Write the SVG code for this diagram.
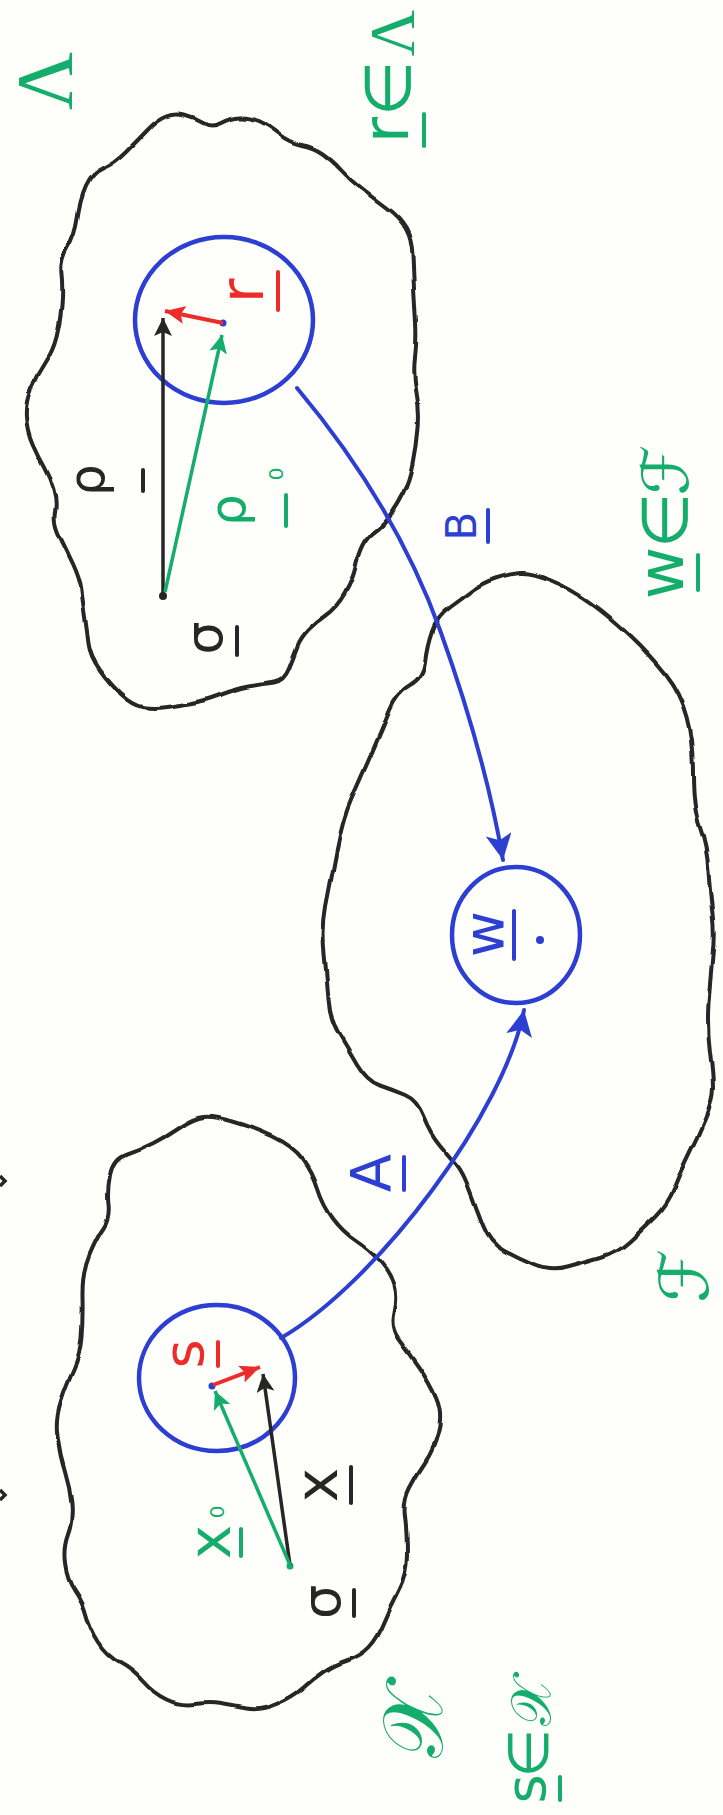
<svg xmlns="http://www.w3.org/2000/svg" width="723" height="1815" viewBox="0 0 723 1815">
<style>
.cloud{fill:none;stroke:#262626;stroke-width:4;stroke-linejoin:round}
.ball{fill:none;stroke:#2c3fd2;stroke-width:4.5}
.conn{fill:none;stroke:#2c3fd2;stroke-width:4;stroke-linecap:round}
.vb{stroke:#262626;stroke-width:3.5;fill:none}
.vg{stroke:#14ad6c;stroke-width:3.5;fill:none}
.vr{stroke:#ee2b2b;stroke-width:4;fill:none}
text{font-family:"DejaVu Sans","Liberation Sans",sans-serif;text-anchor:middle}
.serif{font-family:"Liberation Serif","DejaVu Serif",serif}
.tg{fill:#14ad6c}.tb{fill:#262626}.tr{fill:#ee2b2b}.tu{fill:#2c3fd2}
.ul{stroke-width:4;stroke-linecap:round}
.ug{stroke:#14ad6c}.ub{stroke:#262626}.ur{stroke:#ee2b2b}.uu{stroke:#2c3fd2}
</style>
<defs>
<filter id="wob" x="-5%" y="-5%" width="110%" height="110%">
<feTurbulence type="fractalNoise" baseFrequency="0.035" numOctaves="1" seed="4"/>
<feDisplacementMap in="SourceGraphic" scale="6" xChannelSelector="R" yChannelSelector="G"/>
</filter>
<marker id="ahU" markerUnits="userSpaceOnUse" markerWidth="30" markerHeight="28" refX="26" refY="13" orient="auto"><path d="M0,0 L26,13 L0,26 L6,13 Z" fill="#2c3fd2"/></marker>
<marker id="ahB" markerUnits="userSpaceOnUse" markerWidth="20" markerHeight="18" refX="18" refY="9" orient="auto"><path d="M0,0 L18,9 L0,18 L4,9 Z" fill="#262626"/></marker>
<marker id="ahG" markerUnits="userSpaceOnUse" markerWidth="20" markerHeight="18" refX="18" refY="9" orient="auto"><path d="M0,0 L18,9 L0,18 L4,9 Z" fill="#14ad6c"/></marker>
<marker id="ahR" markerUnits="userSpaceOnUse" markerWidth="22" markerHeight="18" refX="20" refY="9" orient="auto"><path d="M0,0 L20,9 L0,18 L4,9 Z" fill="#ee2b2b"/></marker>
</defs>
<rect width="723" height="1815" fill="#fefefa"/>

<g id="space-Lambda">
<path class="cloud" filter="url(#wob)" d="M77.5,217.5 Q80,200 86,186.5 Q92,173 103.5,168 Q115,163 126.5,151.5 Q138,140 147.5,130 Q157,120 166,116.5 Q175,113 184.5,115.5 Q194,118 203,123 Q212,128 221,123 Q230,118 239.5,117.5 Q249,117 258,121 Q267,125 278.5,134 Q290,143 301.5,145 Q313,147 322.5,153.5 Q332,160 341,170 Q350,180 361,188.5 Q372,197 386,207.5 Q400,218 406,229 Q412,240 412.5,255 Q413,270 414,287.5 Q415,305 416,322.5 Q417,340 415,357.5 Q413,375 416.5,392.5 Q420,410 418.5,428 Q417,446 413.5,463.5 Q410,481 404,493 Q398,505 390.5,515.5 Q383,526 375,531.5 Q367,537 362.5,546 Q358,555 355.5,567 Q353,579 345,593 Q337,607 327,614 Q317,621 308.5,629.5 Q300,638 296.5,647 Q293,656 288,668.5 Q283,681 273,682.5 Q263,684 251.5,686 Q240,688 230,691.5 Q220,695 210,698.5 Q200,702 190,703.5 Q180,705 166.5,707 Q153,709 143,707 Q133,705 121.5,694.5 Q110,684 100,670 Q90,656 88.5,643.5 Q87,631 85,617 Q83,603 81.5,591 Q80,579 73.5,565 Q67,551 60,537 Q53,523 55,512.5 Q57,502 53.5,489.5 Q50,477 44,466.5 Q38,456 32.5,443.5 Q27,431 26,417 Q25,403 31,389 Q37,375 45,363 Q53,351 56.5,337 Q60,323 61.5,305.5 Q63,288 61.5,274 Q60,260 67.5,247.5 Q75,235 77.5,217.5 Z"/>
<text class="tg serif" font-size="80" transform="rotate(-90)" x="-81" y="72">Λ</text>
<g>
<text class="tg" font-size="64" transform="rotate(-90)"><tspan x="-130" y="408">r</tspan><tspan x="-88" y="410">∈</tspan><tspan class="serif" x="-33" y="414">Λ</tspan></text>
<line class="ul ug" x1="424" y1="114" x2="424" y2="146"/>
</g>
</g>

<g id="space-F">
<path class="cloud" filter="url(#wob)" d="M520,573 Q530,572 550,580 Q570,588 590,602.5 Q610,617 630,636 Q650,655 665,674 Q680,693 686.5,717 Q693,741 693,774.5 Q693,808 700,827.5 Q707,847 708.5,870.5 Q710,894 712.5,913.5 Q715,933 712.5,956.5 Q710,980 708.5,1004 Q707,1028 710,1052 Q713,1076 713,1088 Q713,1100 705,1119 Q697,1138 688.5,1155 Q680,1172 673.5,1188.5 Q667,1205 655,1217 Q643,1229 630,1241 Q617,1253 600,1258 Q583,1263 566.5,1267.5 Q550,1272 533.5,1265 Q517,1258 503.5,1250.5 Q490,1243 483.5,1226.5 Q477,1210 470,1191 Q463,1172 456.5,1164.5 Q450,1157 440,1145 Q430,1133 423.5,1116.5 Q417,1100 405,1095 Q393,1090 380,1085.5 Q367,1081 357,1064 Q347,1047 338.5,1033 Q330,1019 328.5,999.5 Q327,980 324.5,954 Q322,928 326,906.5 Q330,885 336.5,851.5 Q343,818 351.5,799 Q360,780 371.5,753.5 Q383,727 390,710 Q397,693 410,686 Q423,679 425,662.5 Q427,646 432,631.5 Q437,617 450,607.5 Q463,598 473,590.5 Q483,583 496.5,578.5 Q510,574 520,573 Z"/>
<text class="tg" font-size="68" transform="rotate(-90)" x="-1276" y="708">ℱ</text>
<g>
<text class="tg" font-size="64" transform="rotate(-90)"><tspan x="-573" y="683">w</tspan><tspan x="-520" y="687">∈</tspan><tspan x="-470" y="688">ℱ</tspan></text>
<line class="ul ug" x1="698" y1="555" x2="698" y2="590"/>
</g>
</g>

<g id="space-X">
<path class="cloud" filter="url(#wob)" d="M203,1117 Q213,1116 233,1121.5 Q253,1127 273,1136.5 Q293,1146 303,1159.5 Q313,1173 318,1189 Q323,1205 333,1218.5 Q343,1232 356.5,1241 Q370,1250 380,1261.5 Q390,1273 393.5,1284.5 Q397,1296 393.5,1312 Q390,1328 398.5,1339.5 Q407,1351 418.5,1367 Q430,1383 436.5,1399 Q443,1415 438,1433 Q433,1451 425,1462.5 Q417,1474 410,1487.5 Q403,1501 405,1517 Q407,1533 407,1553.5 Q407,1574 398.5,1590 Q390,1606 383.5,1622 Q377,1638 368.5,1647 Q360,1656 346.5,1660.5 Q333,1665 323,1672 Q313,1679 303,1688 Q293,1697 276.5,1704 Q260,1711 246.5,1708.5 Q233,1706 221.5,1704 Q210,1702 195,1704 Q180,1706 166.5,1699.5 Q153,1693 143,1681.5 Q133,1670 120,1663 Q107,1656 98.5,1642.5 Q90,1629 86.5,1615.5 Q83,1602 75,1590.5 Q67,1579 65,1563 Q63,1547 68,1533.5 Q73,1520 71.5,1504 Q70,1488 65,1472 Q60,1456 57.5,1437.5 Q55,1419 61,1401 Q67,1383 73.5,1369 Q80,1355 81.5,1337 Q83,1319 82.5,1296 Q82,1273 89.5,1255 Q97,1237 103.5,1228 Q110,1219 108.5,1205 Q107,1191 110,1175 Q113,1159 126.5,1154.5 Q140,1150 153.5,1143 Q167,1136 180,1127 Q193,1118 203,1117 Z"/>
<text class="tg" font-size="84" transform="rotate(-90)" x="-1722" y="442">𝒳</text>
<g>
<text class="tg" font-size="56" transform="rotate(-90)"><tspan x="-1789" y="545">s</tspan><tspan x="-1753" y="548">∈</tspan><tspan x="-1702" y="550">𝒳</tspan></text>
<line class="ul ug" x1="560" y1="1777" x2="560" y2="1800"/>
</g>
</g>

<g id="ball-r">
<ellipse class="ball" cx="224" cy="320" rx="89" ry="83"/>
<circle cx="223" cy="323" r="3.5" fill="#2c3fd2"/>
<text class="tr" font-size="60" transform="rotate(-90)" x="-291" y="263">r</text>
<line class="ul ur" x1="278" y1="272" x2="278" y2="310"/>
</g>

<g id="origin-Lambda">
<circle cx="163" cy="596" r="4" fill="#262626"/>
<text class="tb" font-size="52" transform="rotate(-90)" x="-638" y="222">σ</text>
<line class="ul ub" x1="237" y1="627" x2="237" y2="655"/>
</g>

<g id="ball-w">
<ellipse class="ball" cx="516" cy="935" rx="64" ry="68"/>
<text class="tu" font-size="56" transform="rotate(-90)" x="-934" y="503">w</text>
<line class="ul uu" x1="514" y1="911" x2="514" y2="959"/>
<circle cx="540" cy="940" r="4" fill="#2c3fd2"/>
</g>

<g id="ball-s">
<ellipse class="ball" cx="217" cy="1378" rx="78" ry="73"/>
<circle cx="212" cy="1386" r="3.5" fill="#2c3fd2"/>
<text class="tr" font-size="56" transform="rotate(-90)" x="-1354" y="203">s</text>
<line class="ul ur" x1="218" y1="1342" x2="218" y2="1366"/>
</g>

<g id="origin-X">
<circle cx="290" cy="1566" r="3.5" fill="#14ad6c"/>
<text class="tb" font-size="54" transform="rotate(-90)" x="-1602" y="340">σ</text>
<line class="ul ub" x1="354" y1="1590" x2="354" y2="1616"/>
</g>

<g id="connectors">
<path class="conn" d="M297,388 Q395,505 440,630 T503,860" marker-end="url(#ahU)"/>
<path class="conn" d="M281,1338 C380,1280 505,1110 524,1010" marker-end="url(#ahU)"/>
<path class="vb" d="M163,595 L163,318" marker-end="url(#ahB)"/>
<path class="vg" d="M165,592 L222,335" marker-end="url(#ahG)"/>
<path class="vr" d="M223,323 L165,311" marker-end="url(#ahR)"/>
<path class="vb" d="M290,1565 L263,1374" marker-end="url(#ahB)"/>
<path class="vg" d="M290,1565 L215,1391" marker-end="url(#ahG)"/>
<path class="vr" d="M213,1385 L260,1367" marker-end="url(#ahR)"/>
</g>

<g id="labels">
<g><text class="tb" font-size="50" transform="rotate(-90)" x="-480" y="104">ρ</text>
<line class="ul ub" x1="143" y1="470" x2="143" y2="491"/></g>
<g><text class="tg" font-size="50" transform="rotate(-90)"><tspan x="-510" y="245">ρ</tspan><tspan x="-474" y="283" font-size="20">0</tspan></text>
<line class="ul ug" x1="286" y1="495" x2="286" y2="526"/></g>
<g><text class="tu" font-size="42" transform="rotate(-90)" x="-526" y="476">B</text>
<line class="ul uu" x1="488" y1="510" x2="488" y2="542"/></g>
<g><text class="tu" font-size="56" transform="rotate(-90)" x="-1173" y="390">A</text>
<line class="ul uu" x1="404" y1="1157" x2="404" y2="1190"/></g>
<g><text class="tb" font-size="58" transform="rotate(-90)" x="-1485" y="337">x</text>
<line class="ul ub" x1="351" y1="1467" x2="351" y2="1503"/></g>
<g><text class="tg" font-size="58" transform="rotate(-90)"><tspan x="-1542" y="230">x</tspan><tspan x="-1512" y="224" font-size="20">0</tspan></text>
<line class="ul ug" x1="241" y1="1529" x2="241" y2="1556"/></g>
</g>

<g id="edge-marks">
<path d="M0,1176 L5,1181 L0,1186" class="vb" stroke-width="3"/>
<path d="M0,1490 L5,1495 L0,1500" class="vb" stroke-width="3"/>
</g>
</svg>
